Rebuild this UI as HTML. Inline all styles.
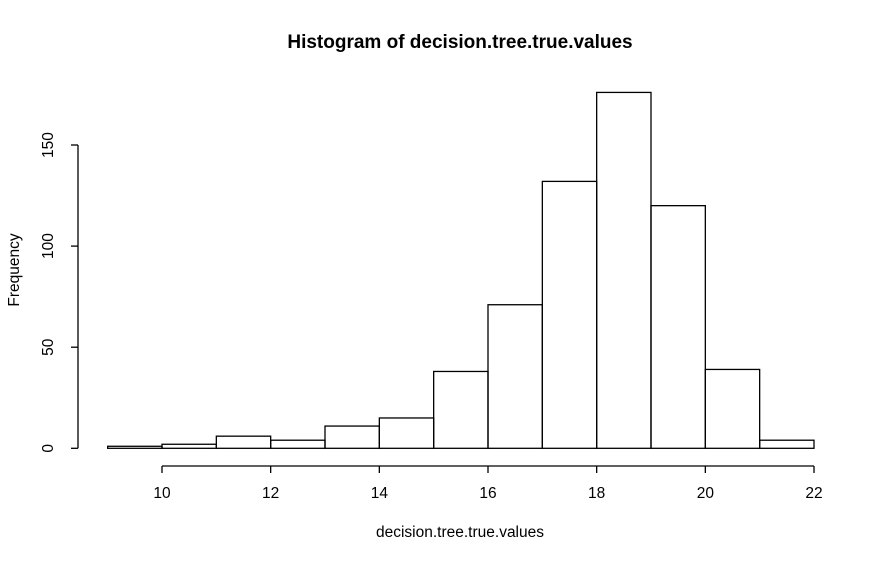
<!DOCTYPE html>
<html><head><meta charset="utf-8"><style>
body{margin:0;background:#fff;}
svg{display:block;font-family:"Liberation Sans",Arial,sans-serif;}
</style></head><body>
<svg id="chart" width="883" height="561" viewBox="0 0 883 561">
<text x="460" y="48" text-anchor="middle" font-size="19" font-weight="bold">Histogram of decision.tree.true.values</text>
<text x="460" y="537" text-anchor="middle" font-size="15.5">decision.tree.true.values</text>
<text transform="translate(19,270) rotate(-90)" text-anchor="middle" font-size="15.5">Frequency</text>
<g id="bars"></g>
<g id="xaxis"></g>
<g id="yaxis"></g>
</svg>
<script>
const binStarts = [9,10,11,12,13,14,15,16,17,18,19,20,21];
const counts = [1,2,6,4,11,15,38,71,132,176,120,39,4];
const xTicks = [10,12,14,16,18,20,22];
const yTicks = [0,50,100,150];
const binWidth = 1;
const NS = "http://www.w3.org/2000/svg";
function xs(v){return 162 + (v-10)*(814-162)/12;}
function ys(v){return 448.3 - v*(448.3-145)/150;}
function mk(tag, attrs, parent){const e=document.createElementNS(NS,tag);for(const k in attrs)e.setAttribute(k,attrs[k]);parent.appendChild(e);return e;}
const bars=document.getElementById('bars');
binStarts.forEach((b,i)=>{
  const x0=xs(b), x1=xs(b+binWidth), y=ys(counts[i]);
  const r=mk('rect',{x:x0,y:y,width:x1-x0,height:ys(0)-y,fill:'none',stroke:'#000','stroke-width':1.3},bars);
  
  
});
const xa=document.getElementById('xaxis');
mk('line',{x1:xs(xTicks[0]),x2:xs(xTicks[xTicks.length-1]),y1:466,y2:466,stroke:'#000','stroke-width':1.3},xa);
xTicks.forEach(t=>{
  mk('line',{x1:xs(t),x2:xs(t),y1:466,y2:473,stroke:'#000','stroke-width':1.3},xa);
  const tx=mk('text',{x:xs(t),y:498,'text-anchor':'middle','font-size':15.5},xa);
  tx.textContent=t;
  
  
});
const ya=document.getElementById('yaxis');
mk('line',{x1:78,x2:78,y1:ys(yTicks[0]),y2:ys(yTicks[yTicks.length-1]),stroke:'#000','stroke-width':1.3},ya);
yTicks.forEach(t=>{
  mk('line',{x1:71,x2:78,y1:ys(t),y2:ys(t),stroke:'#000','stroke-width':1.3},ya);
  const tx=mk('text',{transform:'translate(53,'+ys(t)+') rotate(-90)','text-anchor':'middle','font-size':15.5},ya);
  tx.textContent=t;
  
  
});
</script>
</body></html>
